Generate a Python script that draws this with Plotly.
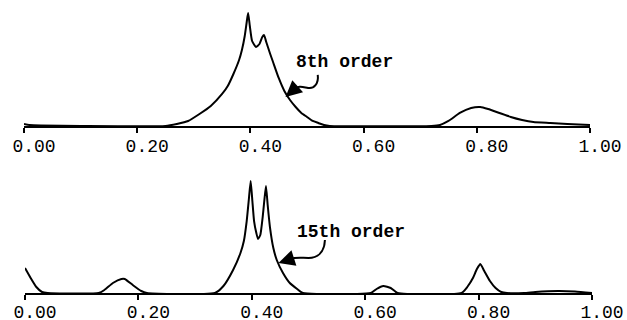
import plotly.graph_objects as go

# ---- data (amplitudes in arbitrary units) ----
tick_vals = [0.0, 0.2, 0.4, 0.6, 0.8, 1.0]
tick_text = ["0.00", "0.20", "0.40", "0.60", "0.80", "1.00"]

f8 = [0.000, 0.010, 0.030, 0.100, 0.250, 0.270, 0.290, 0.310, 0.330, 0.350, 0.360,
      0.370, 0.380, 0.385, 0.390, 0.394, 0.396, 0.399, 0.403, 0.410, 0.416, 0.421,
      0.424, 0.428, 0.435, 0.440, 0.450, 0.460, 0.470, 0.480, 0.490, 0.500, 0.510,
      0.520, 0.530, 0.540, 0.720, 0.735, 0.750, 0.770, 0.790, 0.806, 0.820, 0.840,
      0.860, 0.880, 0.900, 0.930, 0.960, 1.000]
a8 = [2, 1, 0.5, 0, 0, 2, 5, 12, 20, 32, 40,
      52, 66, 76, 90, 106, 113, 100, 85, 79, 82, 89,
      91, 84, 72, 64, 48, 35, 26, 19, 13, 9, 5,
      3, 1, 0, 0, 1, 5, 13, 18, 19, 17, 13,
      9, 6, 4, 3, 2, 1]

f15 = [0.000, 0.010, 0.020, 0.030, 0.040, 0.130, 0.140, 0.155, 0.170, 0.176, 0.190,
       0.205, 0.215, 0.335, 0.350, 0.367, 0.380, 0.386, 0.391, 0.395, 0.398, 0.401,
       0.404, 0.408, 0.411, 0.415, 0.419, 0.422, 0.425, 0.428, 0.432, 0.438, 0.444,
       0.455, 0.467, 0.480, 0.490, 0.610, 0.620, 0.632, 0.645, 0.657, 0.770, 0.780,
       0.790, 0.797, 0.803, 0.810, 0.820, 0.830, 0.840, 0.850, 0.880, 0.900, 0.940,
       0.970, 1.000]
a15 = [25, 15, 6, 1, 0, 0, 3, 10, 14, 14, 8,
       2, 0, 0, 7, 23, 40, 52, 72, 95, 112, 92,
       72, 60, 54, 58, 75, 92, 107, 88, 66, 45, 33,
       20, 10, 4, 0, 0, 4, 7, 5, 0, 0, 6,
       15, 24, 29, 22, 12, 5, 1, 0, 0, 1, 2,
       1.5, 0]

# ---- figure ----
fig = go.Figure()
line = dict(color="black", width=2, shape="spline", smoothing=0.5)
fig.add_trace(go.Scatter(x=f8, y=a8, mode="lines", line=line,
                         xaxis="x", yaxis="y", hoverinfo="skip"))
fig.add_trace(go.Scatter(x=f15, y=a15, mode="lines", line=line,
                         xaxis="x2", yaxis="y2", hoverinfo="skip"))

axis_x = dict(range=[0, 1], showline=True, linecolor="black", linewidth=2,
              ticks="outside", ticklen=5, tickwidth=2, tickcolor="black",
              tickvals=tick_vals, ticktext=tick_text, showgrid=False,
              zeroline=False, ticklabelshift=10, automargin=False,
              tickfont=dict(family="Liberation Mono", size=18, color="black"),
              fixedrange=True)

fig.update_layout(
    width=627, height=320,
    margin=dict(l=24, r=35, t=5, b=27, autoexpand=False),
    paper_bgcolor="white", plot_bgcolor="white",
    showlegend=False,
    xaxis=dict(axis_x, domain=[0, 566 / 568], anchor="y", ticklabelstandoff=-3),
    xaxis2=dict(axis_x, domain=[1 / 568, 1], anchor="y2", ticklabelstandoff=-4),
    yaxis=dict(domain=[0.58, 1.0], range=[0, 121], visible=False, fixedrange=True),
    yaxis2=dict(domain=[0.0, 0.427], range=[0, 123], visible=False, fixedrange=True),
)

txtfont = dict(family="Liberation Mono", size=18, color="black")
fig.add_annotation(text="<b>8th order</b>", x=0.477, y=64, xref="x", yref="y",
                   xanchor="left", yanchor="middle", showarrow=False, font=txtfont)
fig.add_annotation(text="<b>15th order</b>", x=0.476, y=61, xref="x2", yref="y2",
                   xanchor="left", yanchor="middle", showarrow=False, font=txtfont)

# squiggly leader lines
fig.add_shape(type="path", xref="x", yref="y",
              path="M 0.519,51 C 0.521,42 0.512,37 0.502,38 C 0.492,39 0.486,41 0.475,36",
              line=dict(color="black", width=2))
fig.add_annotation(x=0.462, y=29, ax=0.476, ay=36, xref="x", yref="y",
                   axref="x", ayref="y", text="", showarrow=True,
                   arrowhead=2, arrowsize=1.3, arrowwidth=2.5, arrowcolor="black")

fig.add_shape(type="path", xref="x2", yref="y2",
              path="M 0.529,53 C 0.528,40 0.515,35 0.500,35 C 0.488,35 0.478,36 0.468,34",
              line=dict(color="black", width=2))
fig.add_annotation(x=0.447, y=30, ax=0.469, ay=34, xref="x2", yref="y2",
                   axref="x2", ayref="y2", text="", showarrow=True,
                   arrowhead=2, arrowsize=1.3, arrowwidth=2.5, arrowcolor="black")

fig.write_html("out.html", config={"displayModeBar": False},
               post_script="document.body.style.margin='0';"
                           "document.body.style.overflow='hidden';")
